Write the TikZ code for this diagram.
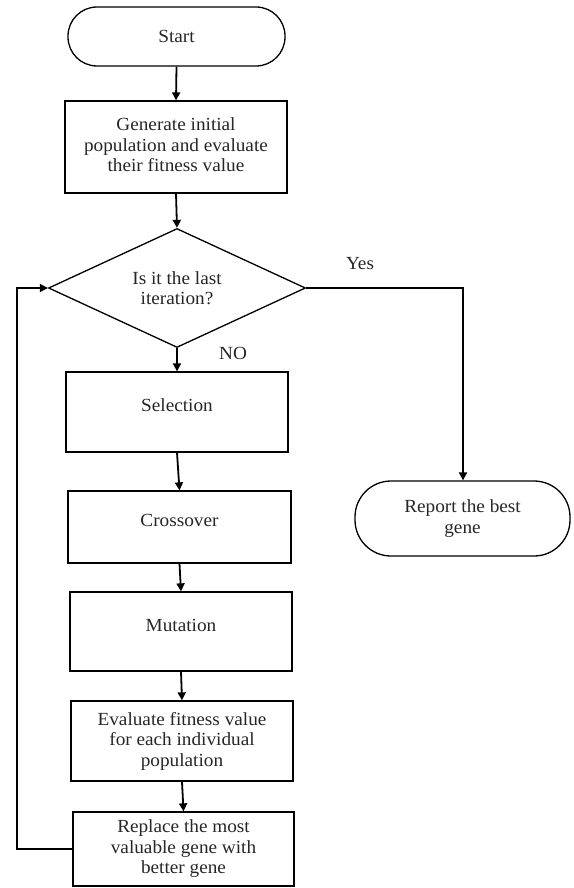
\documentclass[tikz,border=0pt]{standalone}
\usepackage{fontspec}
\setmainfont[FakeStretch=1.04]{Liberation Serif}
\usetikzlibrary{shapes.geometric,arrows.meta}
\begin{document}
\begin{tikzpicture}[x=1pt,y=-1pt,
  every node/.style={font=\fontsize{18.5}{20.5}\selectfont, text=black!85},
  procbox/.style={draw, line width=1.3pt, rectangle, align=center, inner sep=0pt},
  onebox/.style={procbox, text depth=13pt},
  termbox/.style={draw, line width=1.3pt, rectangle, rounded corners=29pt, align=center, inner sep=0pt},
  decbox/.style={draw, line width=1.3pt, diamond, shape aspect=2.16, align=center, inner sep=0pt},
  flow/.style={line width=1.8pt, -{Triangle[length=8pt,width=8pt]}}]
\useasboundingbox (0,0) rectangle (573,888);
\node[termbox, minimum width=217pt, minimum height=59pt] (start) at (176.5,36.5) {Start};
\node[procbox, minimum width=222pt, minimum height=92pt] (gen) at (176,147) {\raisebox{5pt}{\begin{tabular}{@{}c@{}}Generate initial\\population and evaluate\\their fitness value\end{tabular}}};
\node[decbox, minimum width=257pt, minimum height=119pt] (dec) at (177,288) {Is it the last\\iteration?};
\node[onebox, minimum width=222pt, minimum height=80pt] (sel) at (177,412) {Selection};
\node[onebox, minimum width=223pt, minimum height=72pt] (cross) at (179.5,527) {Crossover};
\node[onebox, minimum width=222pt, minimum height=79pt] (mut) at (181,631.5) {Mutation};
\node[procbox, minimum width=222pt, minimum height=80pt] (eval) at (182,741) {Evaluate fitness value\\for each individual\\population};
\node[procbox, minimum width=221pt, minimum height=74pt] (repl) at (183.5,849) {Replace the most\\valuable gene with\\better gene};
\node[termbox, minimum width=215pt, minimum height=75pt, rounded corners=36pt] (rep) at (462.5,518.5) {Report the best\\gene};
\node (yes) at (360,264) {Yes};
\node (no) at (233,353) {NO};
\coordinate (c1) at (17,0);
\coordinate (c2) at (463,0);
\draw[flow] (start.south) -- (gen.north);
\draw[flow] (gen.south) -- (dec.north);
\draw[flow] (dec.south) -- (sel.north);
\draw[flow] (sel.south) -- (cross.north);
\draw[flow] (cross.south) -- (mut.north);
\draw[flow] (mut.south) -- (eval.north);
\draw[flow] (eval.south) -- (repl.north);
\draw[flow] (dec.east) -- (c2 |- dec.east) -- (c2 |- rep.north);
\draw[flow] (repl.west) -- (c1 |- repl.west) -- (c1 |- dec.west) -- (dec.west);
\end{tikzpicture}
\end{document}
